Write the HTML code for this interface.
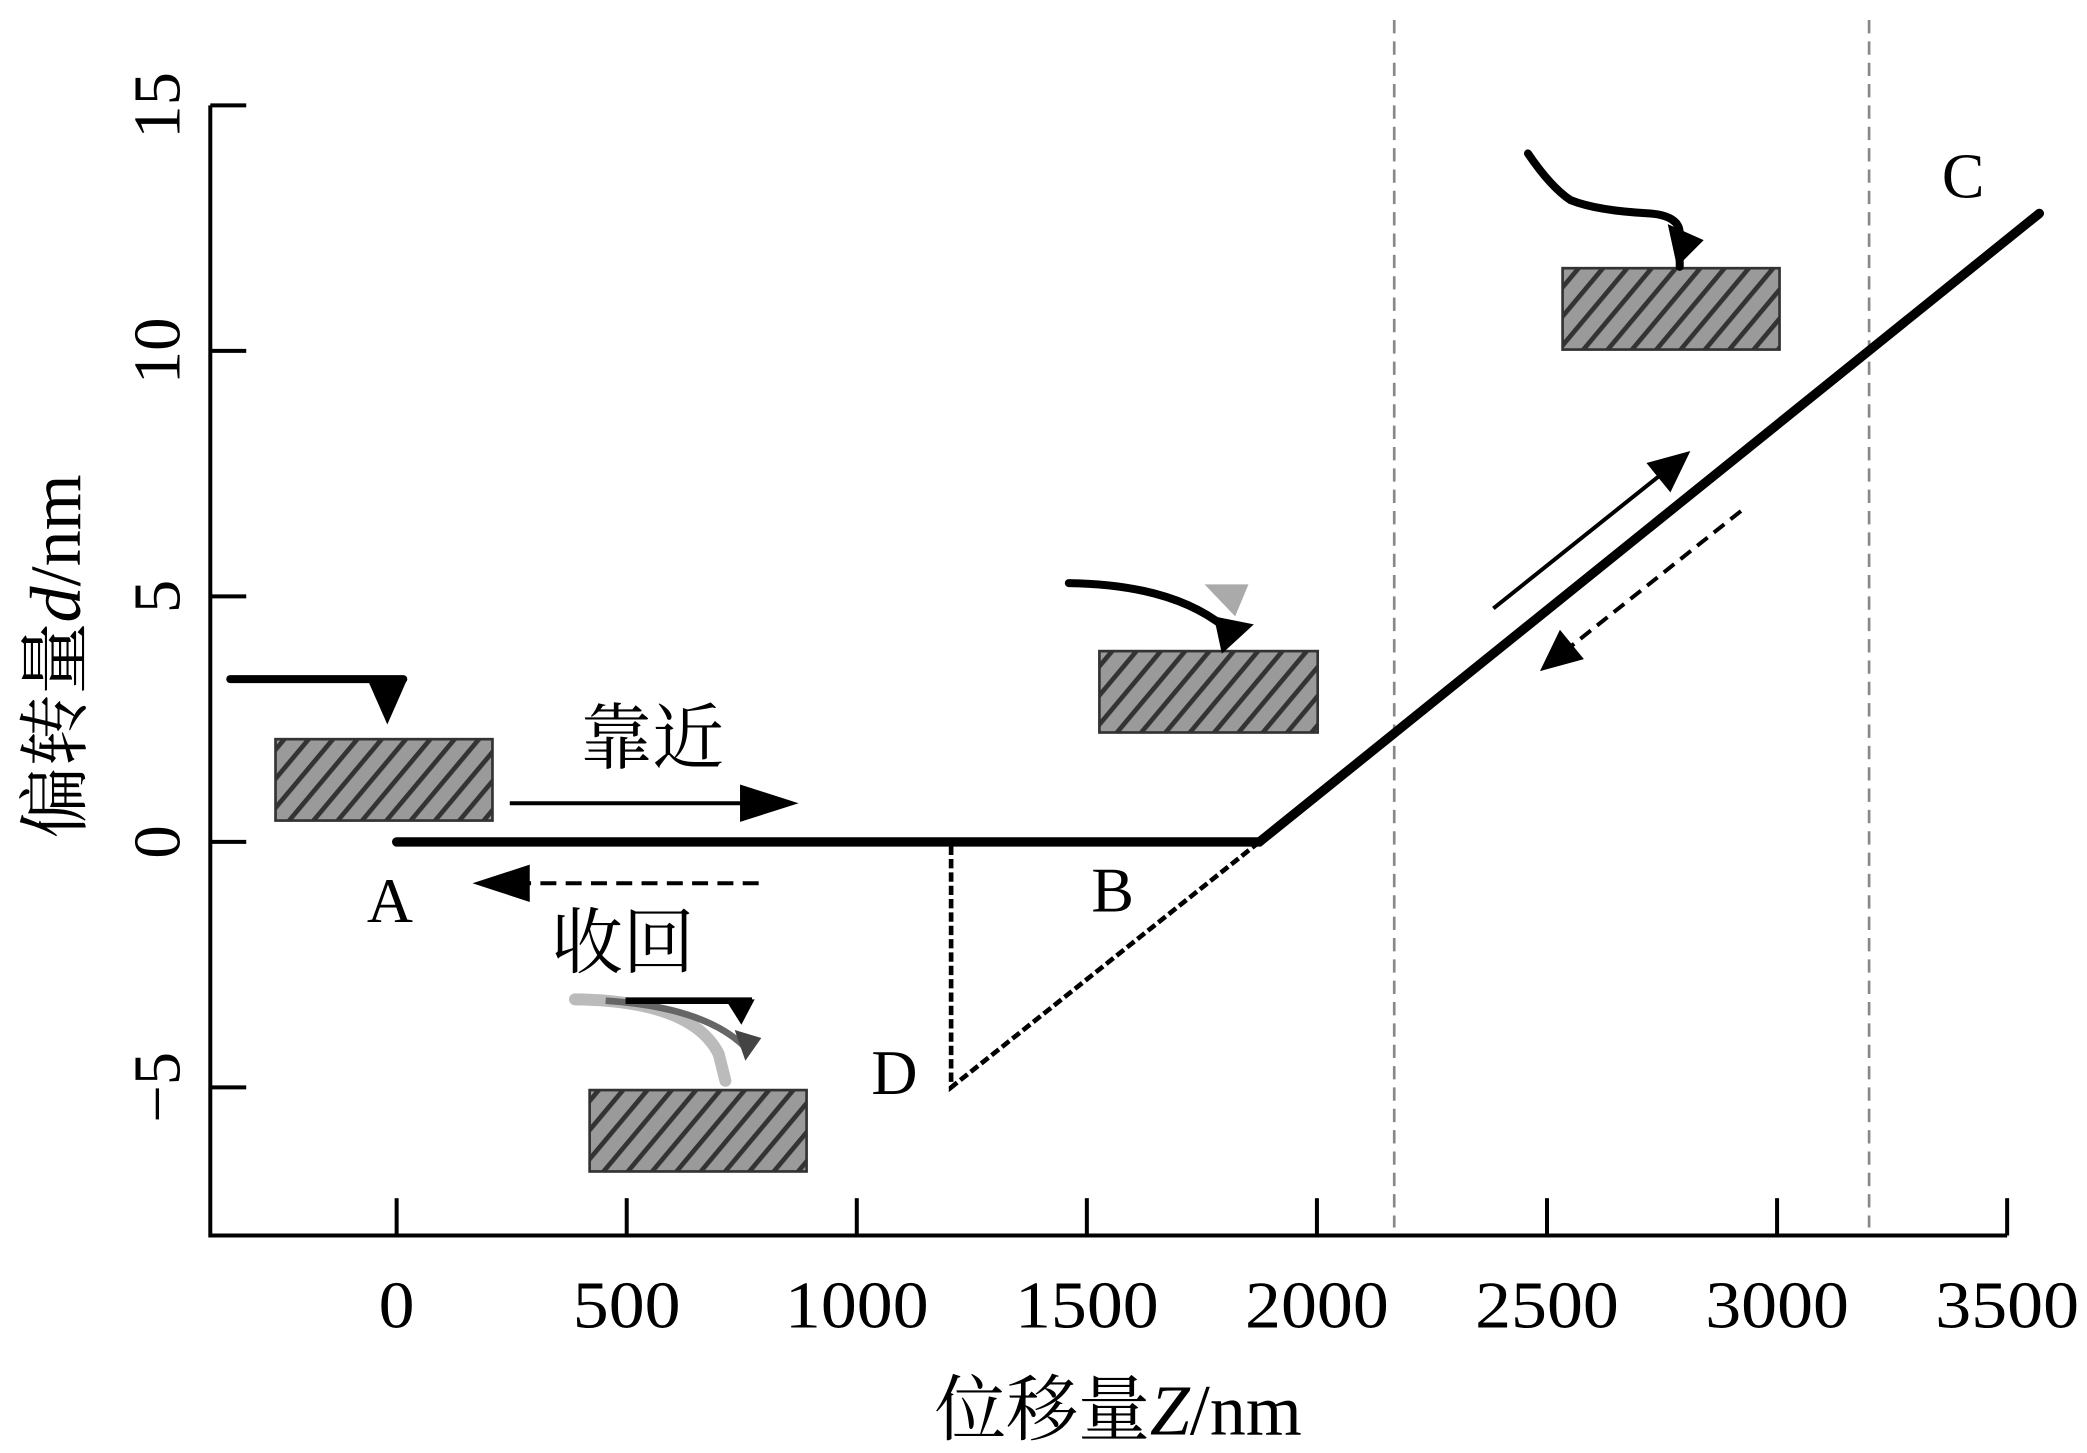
<!DOCTYPE html>
<html><head><meta charset="utf-8"><style>
html,body{margin:0;padding:0;background:#fff;}
svg{display:block;}
text{font-family:"Liberation Serif","Noto Serif CJK SC",serif;fill:#000;}
</style></head><body>
<svg id="chart" width="2087" height="1453" viewBox="0 0 1568 1089" preserveAspectRatio="none" xmlns="http://www.w3.org/2000/svg">
<defs>
<pattern id="hatch" patternUnits="userSpaceOnUse" width="14" height="14" patternTransform="rotate(40)">
<rect width="14" height="14" fill="#9a9a9a"/><rect width="3.5" height="14" fill="#333"/>
</pattern>
</defs>
<g id="axes"></g>
<g id="marks"></g>
<g id="deco">
<rect x="207" y="554" width="163" height="61" fill="url(#hatch)" stroke="#333" stroke-width="2"/>
<rect x="826" y="488" width="164" height="61" fill="url(#hatch)" stroke="#333" stroke-width="2"/>
<rect x="1174" y="201" width="163" height="61" fill="url(#hatch)" stroke="#333" stroke-width="2"/>
<rect x="443" y="817" width="163" height="61" fill="url(#hatch)" stroke="#333" stroke-width="2"/>
<g><path d="M173,509 L303,509" stroke="#000" stroke-width="6" stroke-linecap="round" fill="none"/><path d="M276,509 L306,509 L291,543 Z"/></g>
<g><path d="M905,438 L938,438 L928,462 Z" fill="#aaa"/><path d="M803,437 Q880,438 920,470" stroke="#000" stroke-width="6" fill="none" stroke-linecap="round"/><path d="M912,462 L942,468 L918,490 Z"/></g>
<g><path d="M1148,115 Q1165,140 1180,150 Q1200,158 1240,160 Q1262,162 1262,175 L1262,200" stroke="#000" stroke-width="6" fill="none" stroke-linecap="round"/><path d="M1253,168 L1280,180 L1260,200 Z"/></g>
<g><path d="M432,749 Q520,750 540,790 L545,810" stroke="#bbb" stroke-width="9" fill="none" stroke-linecap="round"/><path d="M455,750 Q530,755 560,785" stroke="#666" stroke-width="5" fill="none"/><path d="M470,750 L565,750" stroke="#000" stroke-width="5" fill="none"/><path d="M545,749 L567,749 L557,768 Z"/><path d="M552,772 L572,778 L560,795 Z" fill="#444"/></g>
<line x1="383" y1="602" x2="570" y2="602" stroke="#000" stroke-width="3"/>
<path d="M556,588 L600,602 L556,616 Z"/>
<line x1="570" y1="662" x2="390" y2="662" stroke="#000" stroke-width="3" stroke-dasharray="12,7"/>
<path d="M398,648 L355,662 L398,676 Z"/>
<line x1="1122" y1="456" x2="1250" y2="354" stroke="#000" stroke-width="3"/>
<path d="M1270,338 L1255,369 L1237,347 Z"/>
<line x1="1308" y1="383" x2="1177" y2="487" stroke="#000" stroke-width="3" stroke-dasharray="10,6"/>
<path d="M1157,503 L1172,472 L1190,494 Z"/>
<text x="490" y="572" font-size="54" text-anchor="middle">靠近</text>
<text x="468" y="725" font-size="54" text-anchor="middle">收回</text>
<text x="293" y="691" font-size="48" text-anchor="middle">A</text>
<text x="836" y="683" font-size="48" text-anchor="middle">B</text>
<text x="1475" y="148" font-size="48" text-anchor="middle">C</text>
<text x="672" y="820" font-size="48" text-anchor="middle">D</text>
</g>
<text x="840" y="1075" font-size="54" text-anchor="middle">位移量<tspan font-style="italic">Z</tspan>/nm</text>
<text transform="translate(60,492) rotate(-90)" font-size="54" text-anchor="middle">偏转量<tspan font-style="italic">d</tspan>/nm</text>
</svg>
<script>
const xTicks=[0,500,1000,1500,2000,2500,3000,3500];
const yTicks=[-5,0,5,10,15];
const approachZ=[0,1875,3570];
const approachD=[0,0,12.8];
const retractZ=[1875,1205,1205];
const retractD=[0,-5,0];
const guideZ=[2168,3200];
const NS='http://www.w3.org/2000/svg';
const X=z=>298+z*(1508-298)/3500;
const Y=d=>631-d*(631-79)/15;
const axes=document.getElementById('axes'),marks=document.getElementById('marks');
function mk(tag,attrs,parent){const e=document.createElementNS(NS,tag);for(const k in attrs)e.setAttribute(k,attrs[k]);parent.appendChild(e);return e;}
let a=mk('path',{d:'M158,79 L158,926 L1508,926',stroke:'#000','stroke-width':3,fill:'none'},axes);


xTicks.forEach(t=>{
 const l=mk('line',{x1:X(t),x2:X(t),y1:926,y2:898,stroke:'#000','stroke-width':3},axes);
 
 
 const tx=mk('text',{x:X(t),y:995,'font-size':50,'text-anchor':'middle',textLength:String(t).length*27,lengthAdjust:'spacingAndGlyphs'},axes);
 tx.textContent=t;
 
 
});
yTicks.forEach(t=>{
 const l=mk('line',{x1:158,x2:185,y1:Y(t),y2:Y(t),stroke:'#000','stroke-width':3},axes);
 
 
 const tx=mk('text',{transform:`translate(135,${Y(t)}) rotate(-90)`,'font-size':50,'text-anchor':'middle'},axes);
 tx.textContent=t<0?'\u2212'+(-t):t;
 
 
});
guideZ.forEach(z=>{
 const l=mk('line',{x1:X(z),x2:X(z),y1:15,y2:920,stroke:'#888','stroke-width':2,'stroke-dasharray':'10,6'},marks);
 
 
});
const rp=mk('polyline',{points:retractZ.map((z,i)=>X(z)+','+Y(retractD[i])).join(' '),stroke:'#000','stroke-width':3.5,fill:'none','stroke-dasharray':'7,3'},marks);


const ap=mk('polyline',{points:approachZ.map((z,i)=>X(z)+','+Y(approachD[i])).join(' '),stroke:'#000','stroke-width':7,fill:'none','stroke-linecap':'round'},marks);


</script>
</body></html>
